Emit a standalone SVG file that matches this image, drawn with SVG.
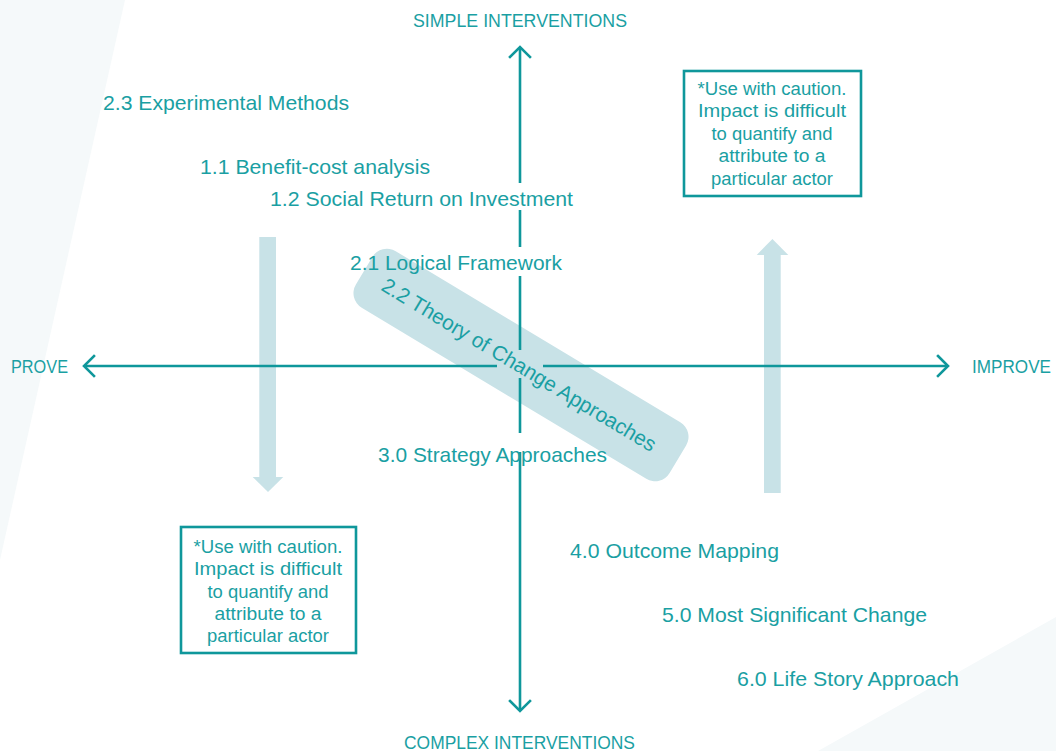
<svg xmlns="http://www.w3.org/2000/svg" width="1056" height="751" viewBox="0 0 1056 751">
<style>
.t{font-family:"Liberation Sans",Arial,sans-serif;fill:#1a9fa3}
.lbl{font-size:21px}
.ax{font-size:18px}
.note{font-size:17.5px;text-anchor:middle}
.axis{stroke:#0f979b;stroke-width:2.6;fill:none}
.head{stroke:#0f979b;stroke-width:2.6;fill:none;stroke-linecap:square}
.pale{fill:#f5f9fa}
.soft{fill:#c8e2e7}
.box{fill:#ffffff;stroke:#0f979b;stroke-width:2.6}
</style>
<rect width="1056" height="751" fill="#ffffff"/>
<polygon class="pale" points="0,0 125,0 0,560"/>
<polygon class="pale" points="1056,617 818,751 1056,751"/>

<g id="arrow-prove">
<rect class="soft" x="259.3" y="237" width="16.7" height="240"/>
<polygon class="soft" points="252.7,477 283.3,477 268,492"/>
</g>
<g id="arrow-improve">
<rect class="soft" x="764" y="255" width="16.7" height="238"/>
<polygon class="soft" points="756.7,255 788.3,255 772.4,239"/>
</g>
<g id="toc-band">
<rect class="soft" x="-183" y="-33" width="366" height="66" rx="17" transform="translate(521 365) rotate(31)"/>
</g>

<g id="connectors">
<path class="axis" d="M520,47V183M520,210V247M520,276V350M520,378V433M520,452V711"/>
<path class="axis" d="M84,366H497M543,366H948"/>
<path class="head" d="M510,57L520,47L530,57"/>
<path class="head" d="M510,701L520,711L530,701"/>
<path class="head" d="M94,356L84,366L94,376"/>
<path class="head" d="M938,356L948,366L938,376"/>
</g>

<g id="axis-simple"><text class="t ax" x="413" y="27" textLength="214" lengthAdjust="spacingAndGlyphs">SIMPLE INTERVENTIONS</text></g>
<g id="axis-complex"><text class="t ax" x="404" y="749" textLength="231" lengthAdjust="spacingAndGlyphs">COMPLEX INTERVENTIONS</text></g>
<g id="axis-prove"><text class="t ax" x="11" y="373" textLength="57" lengthAdjust="spacingAndGlyphs">PROVE</text></g>
<g id="axis-improve"><text class="t ax" x="972" y="373" textLength="79" lengthAdjust="spacingAndGlyphs">IMPROVE</text></g>

<g id="n23"><text class="t lbl" x="103" y="110" textLength="246" lengthAdjust="spacingAndGlyphs">2.3 Experimental Methods</text></g>
<g id="n11"><text class="t lbl" x="200" y="174" textLength="230" lengthAdjust="spacingAndGlyphs">1.1 Benefit-cost analysis</text></g>
<g id="n12"><text class="t lbl" x="270" y="206" textLength="303" lengthAdjust="spacingAndGlyphs">1.2 Social Return on Investment</text></g>
<g id="n21"><text class="t lbl" x="350" y="270" textLength="212" lengthAdjust="spacingAndGlyphs">2.1 Logical Framework</text></g>
<g id="n22"><text class="t lbl" x="0" y="7" text-anchor="middle" textLength="316" lengthAdjust="spacingAndGlyphs" transform="translate(519 365) rotate(31)">2.2 Theory of Change Approaches</text></g>
<g id="n30"><text class="t lbl" x="378" y="462" textLength="229" lengthAdjust="spacingAndGlyphs">3.0 Strategy Approaches</text></g>
<g id="n40"><text class="t lbl" x="570" y="558" textLength="209" lengthAdjust="spacingAndGlyphs">4.0 Outcome Mapping</text></g>
<g id="n50"><text class="t lbl" x="662" y="622" textLength="265" lengthAdjust="spacingAndGlyphs">5.0 Most Significant Change</text></g>
<g id="n60"><text class="t lbl" x="737" y="686" textLength="222" lengthAdjust="spacingAndGlyphs">6.0 Life Story Approach</text></g>

<g id="note-top">
<rect class="box" x="684" y="71" width="177" height="125"/>
<text class="t note" x="772" y="95" textLength="149" lengthAdjust="spacingAndGlyphs">*Use with caution.</text>
<text class="t note" x="772" y="117" textLength="148" lengthAdjust="spacingAndGlyphs">Impact is difficult</text>
<text class="t note" x="772" y="140" textLength="121" lengthAdjust="spacingAndGlyphs">to quantify and</text>
<text class="t note" x="772" y="162" textLength="107" lengthAdjust="spacingAndGlyphs">attribute to a</text>
<text class="t note" x="772" y="185" textLength="122" lengthAdjust="spacingAndGlyphs">particular actor</text>
</g>
<g id="note-bottom">
<rect class="box" x="181" y="527" width="175" height="126"/>
<text class="t note" x="268" y="553" textLength="149" lengthAdjust="spacingAndGlyphs">*Use with caution.</text>
<text class="t note" x="268" y="575" textLength="148" lengthAdjust="spacingAndGlyphs">Impact is difficult</text>
<text class="t note" x="268" y="598" textLength="121" lengthAdjust="spacingAndGlyphs">to quantify and</text>
<text class="t note" x="268" y="620" textLength="107" lengthAdjust="spacingAndGlyphs">attribute to a</text>
<text class="t note" x="268" y="642" textLength="122" lengthAdjust="spacingAndGlyphs">particular actor</text>
</g>
</svg>
